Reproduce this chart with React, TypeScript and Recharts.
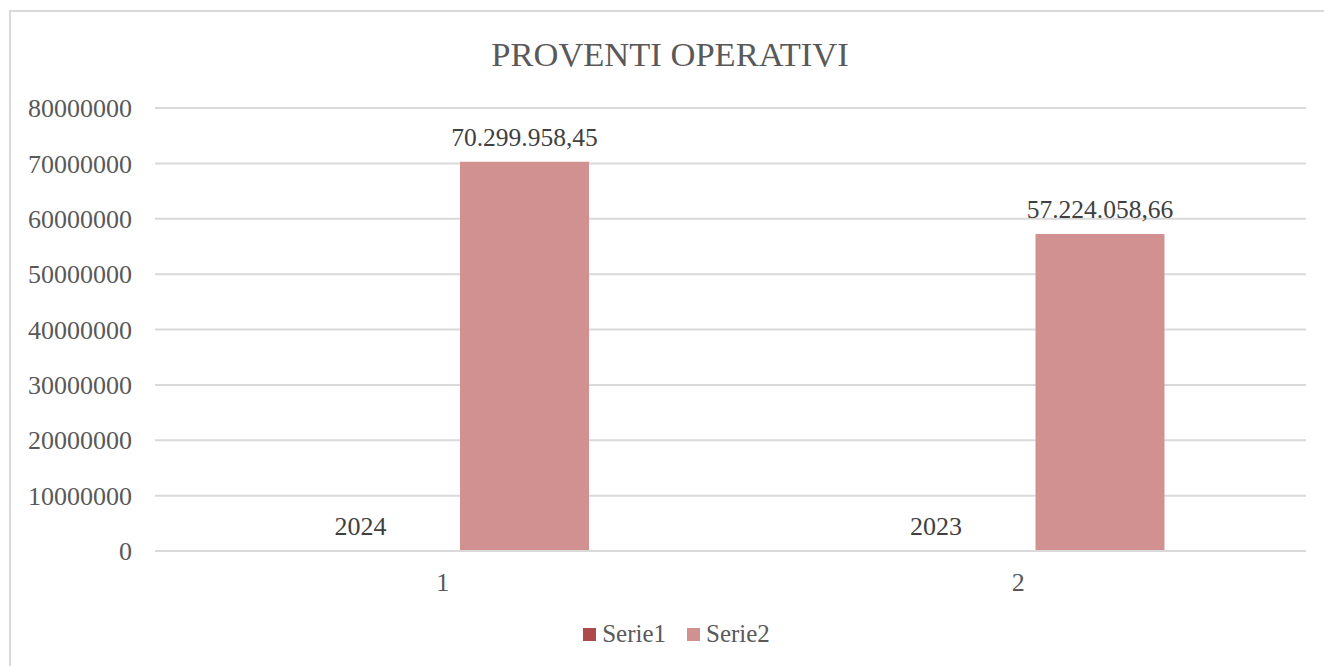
import { Bar, BarChart, CartesianGrid, LabelList, Legend, XAxis, YAxis } from "recharts";

const categories = ["1", "2"];
const serie1 = [2024, 2023];
const serie2 = [70299958.45, 57224058.66];
const yTicks = [0, 10000000, 20000000, 30000000, 40000000, 50000000, 60000000, 70000000, 80000000];

const FONT = '"Liberation Serif", "Times New Roman", serif';
const C1 = "#ae4a4a";
const C2 = "#d29191";

const data = categories.map((name, i) => ({ name, Serie1: serie1[i], Serie2: serie2[i] }));

// 70299958.45 -> "70.299.958,45"
function fmtIt(v: number) {
  const [int, dec] = v.toFixed(2).split(".");
  return int.replace(/\B(?=(\d{3})+(?!\d))/g, ".") + "," + dec;
}

function LegendBox() {
  const items = [
    { label: "Serie1", color: C1 },
    { label: "Serie2", color: C2 }
  ];
  return (
    <div
      style={{
        height: 30,
        display: "flex",
        justifyContent: "center",
        alignItems: "center",
        paddingLeft: 32,
        gap: 21,
        fontFamily: FONT,
        fontSize: 25,
        color: "#595959"
      }}
    >
      {items.map((it) => (
        <div key={it.label} style={{ display: "flex", alignItems: "center", gap: 6 }}>
          <span style={{ width: 13, height: 13, background: it.color, display: "inline-block" }} />
          <span>{it.label}</span>
        </div>
      ))}
    </div>
  );
}

export default function App() {
  return (
    <div style={{ position: "absolute", left: 0, top: 0, width: 1324, height: 666, background: "#fff" }}>
      <div
        style={{
          position: "absolute",
          left: 9,
          top: 10,
          right: 0,
          bottom: 0,
          borderLeft: "2px solid #d9d9d9",
          borderTop: "2px solid #d9d9d9"
        }}
      />
      <div
        style={{
          position: "absolute",
          left: 470,
          top: 37,
          width: 400,
          textAlign: "center",
          fontFamily: FONT,
          fontSize: 34.5,
          lineHeight: "34px",
          color: "#595959"
        }}
      >
        PROVENTI OPERATIVI
      </div>
      <div style={{ position: "absolute", left: 0, top: 0 }}>
        <BarChart
          width={1324}
          height={666}
          data={data}
          margin={{ top: 108, right: 18, bottom: 17, left: 15 }}
          barSize={129}
          barGap={35}
        >
          <CartesianGrid vertical={false} stroke="#d9d9d9" strokeWidth={2} />
          <XAxis
            dataKey="name"
            height={68}
            tickSize={0}
            tickMargin={22}
            axisLine={{ stroke: "#d9d9d9", strokeWidth: 2 }}
            tick={{ fontFamily: FONT, fontSize: 26, fill: "#595959" }}
          />
          <YAxis
            width={140}
            domain={[0, 80000000]}
            ticks={yTicks}
            interval={0}
            tickSize={0}
            tickMargin={23}
            axisLine={false}
            tick={{ fontFamily: FONT, fontSize: 26, fill: "#595959" }}
          />
          <Legend verticalAlign="bottom" content={() => <LegendBox />} />
          <Bar dataKey="Serie1" fill={C1} isAnimationActive={false}>
            <LabelList
              dataKey="Serie1"
              position="top"
              offset={16}
              style={{ fontFamily: FONT, fontSize: 26, fill: "#404040" }}
            />
          </Bar>
          <Bar dataKey="Serie2" fill={C2} isAnimationActive={false}>
            <LabelList
              dataKey="Serie2"
              position="top"
              offset={16}
              formatter={(v: any) => fmtIt(Number(v))}
              style={{ fontFamily: FONT, fontSize: 25.5, fill: "#404040" }}
            />
          </Bar>
        </BarChart>
      </div>
    </div>
  );
}
